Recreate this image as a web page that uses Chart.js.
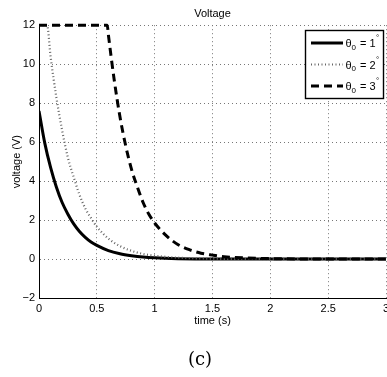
<!DOCTYPE html>
<html>
<head>
<meta charset="utf-8">
<script src="https://cdn.jsdelivr.net/npm/chart.js@4"></script>
<style>
  html, body { margin: 0; padding: 0; background: #fff; }
  #wrap { position: relative; width: 387px; height: 377px; }
  #c { position: absolute; left: 0; top: 0; }
  #cap { position: absolute; left: 0; width: 400px; top: 348px; text-align: center;
         font-family: "DejaVu Serif", "Liberation Serif", serif; font-size: 18px; color: #000; }
</style>
</head>
<body>
<div id="wrap">
  <canvas id="c" width="387" height="377"></canvas>
  <div id="cap">(c)</div>
</div>
<script>
// ---- data ----
const xTicks = [0, 0.5, 1, 1.5, 2, 2.5, 3];
const yTicks = [-2, 0, 2, 4, 6, 8, 10, 12];
const legendLabels = ["1", "2", "3"];

const t1 = [0, 0.05, 0.1, 0.15, 0.2, 0.25, 0.3, 0.35, 0.4, 0.45, 0.5, 0.6, 0.7, 0.8, 0.9, 1.0, 1.2, 1.5, 2, 3];
const v1 = [7.6, 5.95, 4.7, 3.7, 2.9, 2.3, 1.8, 1.41, 1.11, 0.87, 0.7, 0.43, 0.27, 0.17, 0.1, 0.06, 0.02, 0.0, 0, 0];

const t2 = [0, 0.07, 0.1, 0.15, 0.2, 0.25, 0.3, 0.35, 0.4, 0.45, 0.5, 0.6, 0.7, 0.8, 0.9, 1.0, 1.2, 1.4, 1.6, 2, 3];
const v2 = [12, 12, 10.4, 8.3, 6.6, 5.2, 4.2, 3.3, 2.6, 2.1, 1.66, 1.05, 0.66, 0.42, 0.26, 0.17, 0.07, 0.03, 0.01, 0, 0];

const t3 = [0, 0.59, 0.6, 0.65, 0.7, 0.75, 0.8, 0.85, 0.9, 0.95, 1.0, 1.1, 1.2, 1.3, 1.4, 1.5, 1.6, 1.8, 2.0, 2.5, 3];
const v3 = [12, 12, 11.5, 9.2, 7.3, 5.8, 4.6, 3.7, 2.9, 2.3, 1.85, 1.2, 0.75, 0.48, 0.3, 0.2, 0.12, 0.05, 0.02, 0, 0];

const pts = (t, v) => t.map((x, i) => ({x: x, y: v[i]}));
const FONT = '"Liberation Sans", Arial, Helvetica, sans-serif';

const styles = [
  {color: '#000', width: 3, dash: []},
  {color: '#666', width: 2.2, dash: [1, 2.5]},
  {color: '#000', width: 3, dash: [8, 5]}
];

const legendPlugin = {
  id: 'boxLegend',
  afterDraw(chart) {
    const ctx = chart.ctx;
    const bx = 305.5, by = 30.5, bw = 78, bh = 68;
    ctx.save();
    ctx.fillStyle = '#fff';
    ctx.fillRect(bx, by, bw, bh);
    ctx.strokeStyle = '#000';
    ctx.lineWidth = 1.4;
    ctx.strokeRect(bx, by, bw, bh);
    const rows = [43, 64.5, 86];
    legendLabels.forEach((lab, i) => {
      const y = rows[i];
      const s = styles[i];
      ctx.strokeStyle = s.color;
      ctx.lineWidth = s.width;
      ctx.setLineDash(s.dash);
      ctx.beginPath();
      ctx.moveTo(311, y);
      ctx.lineTo(343, y);
      ctx.stroke();
      ctx.setLineDash([]);
      ctx.fillStyle = '#000';
      ctx.textBaseline = 'alphabetic';
      ctx.textAlign = 'left';
      const base = y + 4;
      ctx.font = '11px ' + FONT;
      ctx.fillText('\u03B8', 345.5, base);
      let x = 345.5 + ctx.measureText('\u03B8').width;
      ctx.font = '8px ' + FONT;
      ctx.fillText('0', x, base + 2.5);
      x += ctx.measureText('0').width + 1;
      ctx.font = '11px ' + FONT;
      const str = ' = ' + lab;
      ctx.fillText(str, x, base);
      x += ctx.measureText(str).width + 0.3;
      ctx.font = '8px ' + FONT;
      ctx.fillText('\u00B0', x, base - 7);
    });
    ctx.restore();
  }
};

new Chart(document.getElementById('c'), {
  type: 'line',
  data: {
    datasets: [
      {label: 'θ0 = 1°', data: pts(t1, v1), borderColor: styles[0].color, borderWidth: styles[0].width,
       borderDash: styles[0].dash, order: 3},
      {label: 'θ0 = 2°', data: pts(t2, v2), borderColor: styles[1].color, borderWidth: styles[1].width,
       borderDash: styles[1].dash, order: 2},
      {label: 'θ0 = 3°', data: pts(t3, v3), borderColor: styles[2].color, borderWidth: styles[2].width,
       borderDash: styles[2].dash, order: 1}
    ]
  },
  options: {
    responsive: false,
    animation: false,
    devicePixelRatio: 1,
    layout: {padding: {left: 0, right: 1, top: 0, bottom: 44}},
    elements: {
      point: {radius: 0, hoverRadius: 0},
      line: {cubicInterpolationMode: 'monotone', fill: false, borderCapStyle: 'butt', borderJoinStyle: 'round'}
    },
    datasets: {line: {clip: {left: 0, right: 2, top: 4, bottom: 0}}},
    plugins: {
      legend: {display: false},
      tooltip: {enabled: false},
      title: {
        display: true, text: 'Voltage', fullSize: false, color: '#000',
        font: {family: FONT, size: 11, weight: 'normal'},
        padding: {top: 7, bottom: 5}
      }
    },
    scales: {
      x: {
        type: 'linear', min: 0, max: 3,
        afterBuildTicks: s => { s.ticks = xTicks.map(v => ({value: v})); },
        afterFit: s => { s.height = 35; s.paddingLeft = 0; s.paddingRight = 0; },
        ticks: {color: '#000', font: {family: FONT, size: 11}, padding: 4, maxRotation: 0,
                autoSkip: false, callback: v => String(v)},
        grid: {color: '#777', lineWidth: 1, drawTicks: false},
        border: {display: true, color: '#000', width: 1, dash: [1, 3]},
        title: {display: true, text: 'time (s)', color: '#000',
                font: {family: FONT, size: 11}, padding: {top: 0, bottom: 5}}
      },
      y: {
        type: 'linear', min: -2, max: 12,
        afterBuildTicks: s => { s.ticks = yTicks.map(v => ({value: v})); },
        afterFit: s => { s.width = 39; s.paddingTop = 0; s.paddingBottom = 0; },
        ticks: {color: '#000', font: {family: FONT, size: 11}, padding: 4,
                callback: v => (v < 0 ? '\u2212' + Math.abs(v) : String(v))},
        grid: {color: '#777', lineWidth: 1, drawTicks: false},
        border: {display: true, color: '#000', width: 1, dash: [1, 3]},
        title: {display: true, text: 'voltage (V)', color: '#000',
                font: {family: FONT, size: 11}, padding: {top: 10.5, bottom: 0}}
      }
    }
  },
  plugins: [legendPlugin]
});
</script>
</body>
</html>
